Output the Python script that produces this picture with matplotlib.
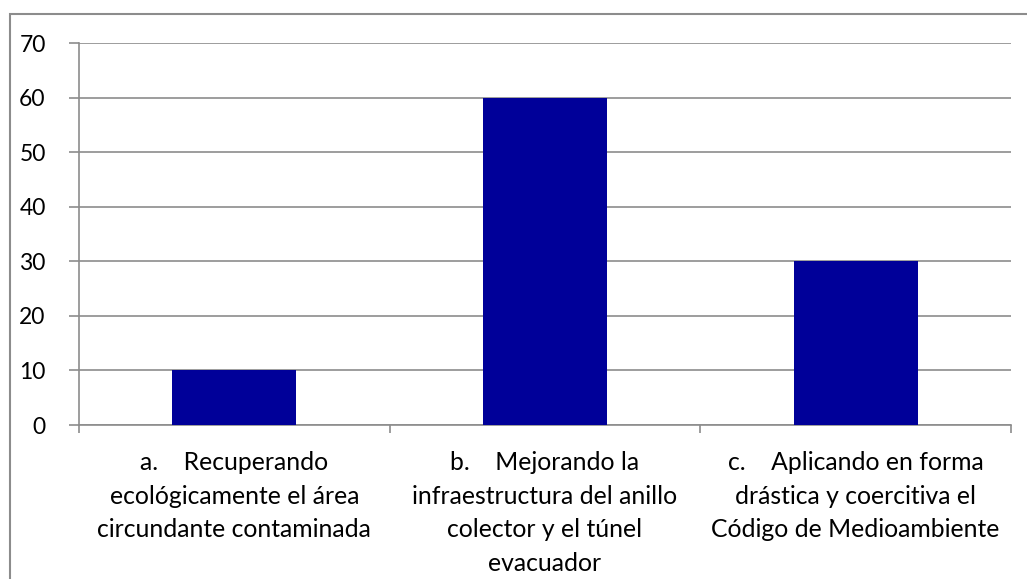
import matplotlib
matplotlib.use("Agg")
import matplotlib.pyplot as plt
from matplotlib.patches import Rectangle

categories = [
    "a.    Recuperando\necológicamente el área\ncircundante contaminada",
    "b.    Mejorando la\ninfraestructura del anillo\ncolector y el túnel\nevacuador",
    "c.    Aplicando en forma\ndrástica y coercitiva el\nCódigo de Medioambiente",
]
values = [10, 60, 30]
yticks = [0, 10, 20, 30, 40, 50, 60, 70]

plt.rcParams['font.family'] = ['Lato', 'DejaVu Sans']

W, H = 1027, 579
fig = plt.figure(figsize=(W / 100, H / 100), dpi=100)
fig.patch.set_facecolor('white')

# outer chart border
fig.patches.append(Rectangle((10 / W, -0.05), 1.1, 1 - 14 / H + 0.05,
                             transform=fig.transFigure, fill=False,
                             edgecolor='#8c8c8c', linewidth=1.5))

left, right, top, bottom = 79, 1011, 43, 425
ax = fig.add_axes([left / W, 1 - bottom / H, (right - left) / W, (bottom - top) / H])

x = list(range(len(values)))
ax.bar(x, values, width=0.4, color='#000099', zorder=3)
ax.set_xlim(-0.5, len(values) - 0.5)
ax.set_ylim(0, 70)
ax.set_yticks(yticks)
ax.set_yticklabels([str(t) for t in yticks], fontsize=16.5)
ax.yaxis.grid(True, color='#8c8c8c', linewidth=1.2, zorder=0)
ax.set_axisbelow(True)

ax.set_xticks([i - 0.5 for i in range(len(values) + 1)])
ax.set_xticklabels([])
ax.set_xticks(x, minor=True)
ax.set_xticklabels(categories, minor=True, fontsize=17.8, linespacing=1.55, va='top')
ax.tick_params(axis='x', which='minor', length=0, pad=19)
ax.tick_params(axis='x', which='major', length=6, color='#8c8c8c', width=1.2)
ax.tick_params(axis='y', length=7, color='#8c8c8c', width=1.2, pad=17)

for s in ['top', 'right']:
    ax.spines[s].set_visible(False)
for s in ['left', 'bottom']:
    ax.spines[s].set_color('#8c8c8c')
    ax.spines[s].set_linewidth(1.2)

fig.savefig('out.png', dpi=100)
